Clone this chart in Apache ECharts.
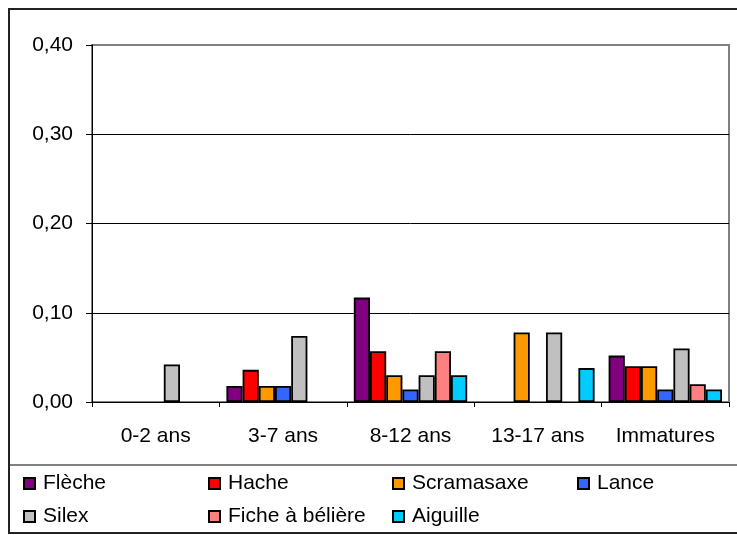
<!DOCTYPE html>
<html><head><meta charset="utf-8">
<script src="https://cdn.jsdelivr.net/npm/echarts@6/dist/echarts.min.js"></script>
<style>html,body{margin:0;padding:0;background:#fff}#c{width:737px;height:535px}</style>
</head><body><div id="c"></div>
<script>
const categories = ['0-2 ans', '3-7 ans', '8-12 ans', '13-17 ans', 'Immatures'];
const yTicks = [0, 0.1, 0.2, 0.3, 0.4];
const fleche   = [null, 0.018, 0.117, null, 0.052];
const hache    = [null, 0.036, 0.057, null, 0.040];
const scram    = [null, 0.018, 0.030, 0.078, 0.040];
const lance    = [null, 0.018, 0.014, null, 0.014];
const silex    = [0.042, 0.074, 0.030, 0.078, 0.060];
const fiche    = [null, null, 0.057, null, 0.020];
const aiguille = [null, null, 0.030, 0.038, 0.014];

const names = ['Flèche', 'Hache', 'Scramasaxe', 'Lance', 'Silex', 'Fiche à bélière', 'Aiguille'];
const values = [fleche, hache, scram, lance, silex, fiche, aiguille];
const colors = ['#800080', '#FF0000', '#FF9900', '#3366FF', '#C0C0C0', '#FF8080', '#00CCFF'];

const font = 'Liberation Sans, Arial, sans-serif';
const fs = 21;
const chart = echarts.init(document.getElementById('c'), null, {renderer: 'canvas'});
const legends = names.map((n, i) => ({
  left: Math.round(23 + (i % 4) * 184.7), top: i < 4 ? 473 : 506, padding: 0,
  icon: 'rect', itemWidth: 11, itemHeight: 11, itemGap: 0,
  textStyle: {fontFamily: font, fontSize: fs, color: '#000', padding: [0, 0, 0, 3]},
  selectedMode: false, data: [n]
}));
chart.setOption({
  animation: false,
  backgroundColor: '#fff',
  color: colors,
  graphic: [
    {type: 'rect', shape: {x: 9, y: 9, width: 740, height: 524}, style: {fill: 'none', stroke: '#222', lineWidth: 2}, z: 100},
    {type: 'line', shape: {x1: 10, y1: 465, x2: 737, y2: 465}, style: {stroke: '#808080', lineWidth: 2}, z: 100}
  ],
  grid: {left: 92, top: 45, right: 8, bottom: 133, show: true, borderColor: '#808080', borderWidth: 2, containLabel: false},
  legend: legends,
  xAxis: {
    type: 'category', data: categories, boundaryGap: true,
    axisLine: {lineStyle: {color: '#000', width: 1}},
    axisTick: {show: true, length: 5, lineStyle: {color: '#000'}},
    axisLabel: {fontFamily: font, fontSize: fs, color: '#000', margin: 24, interval: 0},
    z: 10
  },
  yAxis: {
    type: 'value', min: yTicks[0], max: yTicks[yTicks.length - 1], interval: 0.1,
    axisLine: {show: true, lineStyle: {color: '#000', width: 1}},
    axisTick: {show: true, length: 6, lineStyle: {color: '#000'}},
    axisLabel: {fontFamily: font, fontSize: fs, color: '#000', margin: 19,
      formatter: v => v.toFixed(2).replace('.', ',')},
    splitLine: {show: true, showMaxLine: false, lineStyle: {color: '#000', width: 1}}
  },
  series: names.map((n, i) => ({
    name: n, type: 'bar', data: values[i],
    barGap: '0%', barCategoryGap: '11%',
    itemStyle: {color: colors[i], borderColor: '#000', borderWidth: 1.8}
  }))
});
</script></body></html>
